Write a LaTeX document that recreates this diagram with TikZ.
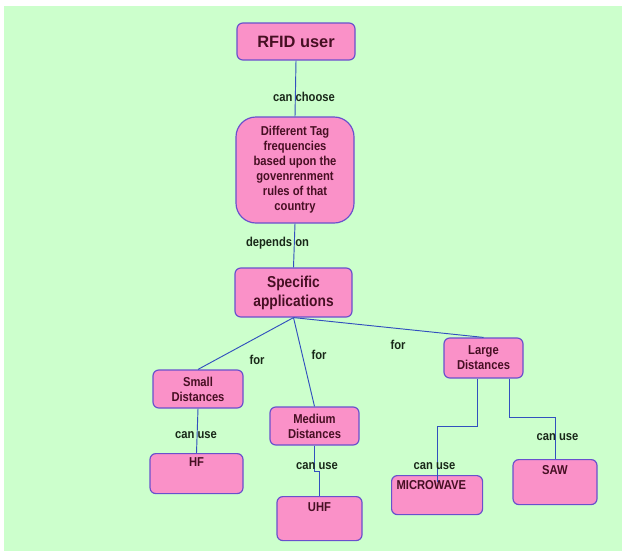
\documentclass[tikz,border=0pt]{standalone}
\usepackage{fontspec}
\setmainfont{Liberation Sans}
\newfontfamily\narrowfont[FakeStretch=0.87]{Liberation Sans}
\usetikzlibrary{positioning}

\definecolor{bggreen}{RGB}{204,255,204}
\definecolor{boxpink}{RGB}{250,145,200}
\definecolor{boxedge}{RGB}{105,80,205}
\definecolor{linkblue}{RGB}{50,80,190}
\definecolor{boxtext}{RGB}{70,15,35}
\definecolor{lbltext}{RGB}{25,40,25}

\begin{document}
\begin{tikzpicture}[x=0.03cm,y=-0.03cm,
  box/.style={draw=boxedge,line width=1pt,fill=boxpink,rounded corners=5pt,
    text=boxtext,font=\narrowfont\bfseries\fontsize{11}{12.75}\selectfont,align=center,inner sep=0pt},
  leaf/.style={box,anchor=north,inner ysep=0pt},
  lbl/.style={text=lbltext,font=\narrowfont\bfseries\fontsize{11}{12}\selectfont,inner sep=0pt},
  link/.style={draw=linkblue,line width=0.8pt}]
\useasboundingbox (0,0) rectangle (622,551);
\fill [bggreen] (4,6) rectangle (622,551);

% concept boxes
\node [box,minimum width=3.54cm,minimum height=1.11cm,
  font=\bfseries\fontsize{14}{16}\selectfont] (user) at (296,41.5) {RFID user};
\node [box,minimum width=3.54cm,minimum height=3.18cm,rounded corners=17pt] (tags) at (295,170)
  {Different Tag\\frequencies\\based upon the\\govenrenment\\rules of that\\country};
\node [box,minimum width=3.51cm,minimum height=1.47cm,
  font=\narrowfont\bfseries\fontsize{13.5}{16.2}\selectfont] (apps) at (293.5,292.5) {Specific\\applications};
\node [box,minimum width=2.7cm,minimum height=1.14cm] (small) at (198,389) {Small\\Distances};
\node [box,minimum width=2.67cm,minimum height=1.14cm] (medium) at (314.5,426) {Medium\\Distances};
\node [box,minimum width=2.37cm,minimum height=1.2cm] (large) at (483.5,358) {Large\\Distances};

% frequency boxes, text at the top
\node [leaf,minimum width=2.79cm,text height=0.4cm,text depth=0.8cm] (hf) at (196.5,453) {HF};
\node [leaf,minimum width=2.55cm,text height=0.45cm,text depth=0.87cm] (uhf) at (319.5,496) {UHF};
\node [leaf,minimum width=2.52cm,text height=0.45cm,text depth=0.9cm] (saw) at (555,459) {SAW};
\node [leaf,anchor=north west,text width=2.43cm,inner xsep=0.15cm,align=left,
  text height=0.42cm,text depth=0.75cm] (micro) at (391,475) {MICROWAVE};

% links
\draw [link] (user.south) -- (tags.north);
\draw [link] (tags.south) -- (apps.north);
\draw [link] (apps.south) -- (small.north);
\draw [link] (apps.south) -- (medium.north);
\draw [link] (apps.south) -- (large.north);
\draw [link] (small.south) -- (hf.north);
\draw [link] (medium.south) -- ++(0,26) -| (uhf.north);
\draw [link] ([xshift=-5.5pt]large.south) -- ++(0,48) -| ([yshift=-6pt]micro.north);
\draw [link] ([xshift=22.5pt]large.south) -- ++(0,39) -| (saw.north);

% link labels
\node [lbl] (choose) at (304,97) {can choose};
\node [lbl] (depends) at (277.5,243) {depends on};
\node [lbl] (forsmall) at (257,360) {for};
\node [lbl] (formedium) at (319,355) {for};
\node [lbl] (forlarge) at (398,345) {for};
\node [lbl] (usehf) at (196,435) {can use};
\node [lbl] (useuhf) at (317,466) {can use};
\node [lbl] (usemicro) at (434.5,466) {can use};
\node [lbl] (usesaw) at (557.5,437) {can use};
\end{tikzpicture}
\end{document}
